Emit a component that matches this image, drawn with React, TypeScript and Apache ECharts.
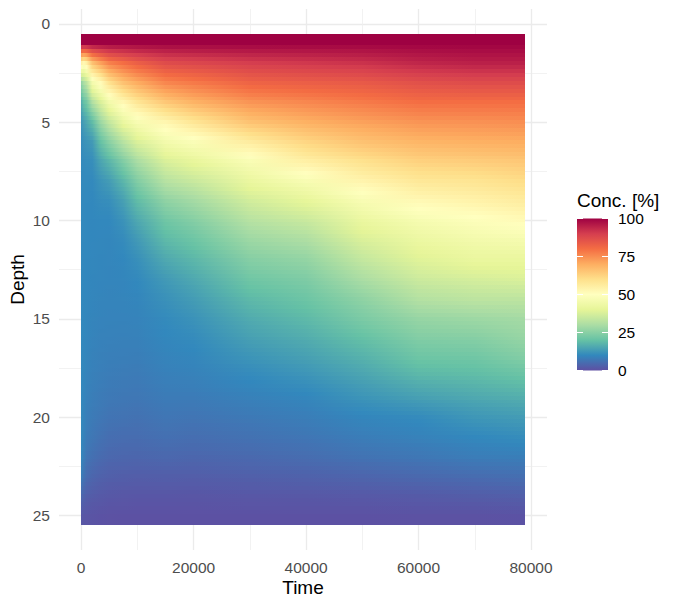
import React, { useEffect, useRef } from "react";
import * as echarts from "echarts";

const depths = [1,2,3,4,5,6,7,8,9,10,11,12,13,14,15,16,17,18,19,20,21,22,23,24,25];
const times = [0,500,1000,2000,3500,5000,7500,10000,15000,20000,30000,40000,50000,60000,70000,78900];

const conc0 = [100,55,26,16,12,10.5,10.3,10.2,10.2,10.2,10.2,10.2,10.2,10.2,10.2,10.2,10.2,10.2,10.2,10.3,10.3,10,8.5,4.5,1.5];
const conc500 = [100,52,30,20,14,11.5,10.6,10.3,10.2,10.1,10.1,10,10,10,10,9.9,9.8,9.7,9.5,9.3,9,8.2,6.4,3.4,1.2];
const conc1000 = [100,55,33,22,15.5,12,10.8,10.3,10.1,10,10,9.9,9.9,9.8,9.7,9.6,9.4,9.1,8.8,8.4,7.8,6.7,5,2.7,1];
const conc2000 = [100,66,45,31,19,13,11,10.2,10,9.9,9.9,9.8,9.7,9.6,9.4,9.2,8.9,8.6,8.2,7.7,7,5.8,4,2.2,0.8];
const conc3500 = [100,72,51,38,28,20,15,12,10.7,10,9.8,9.7,9.6,9.4,9.2,8.9,8.6,8.2,7.7,7.1,6.1,4.9,3.3,1.8,0.6];
const conc5000 = [100,77,59,45,34,25,18,13.5,11,10,9.7,9.6,9.5,9.3,9.1,8.8,8.4,7.9,7.3,6.5,5.5,4.3,2.9,1.5,0.5];
const conc7500 = [100,80,66,52.5,42,32,24,18,14,11.8,10.5,9.9,9.6,9.4,9.1,8.7,8.3,7.7,7.1,6.3,5.3,4.1,2.7,1.4,0.4];
const conc10000 = [100,83,70,58,47,38,30,24,19,15.5,13,11.2,10.2,9.6,9.2,8.8,8.2,7.6,7,6.1,5.2,4,2.6,1.3,0.4];
const conc15000 = [100,87,76,65,53,45,38,32,26,21.5,18.5,15.5,13,11.5,10.4,9.8,9.2,8.5,7.8,6.9,5.8,4.3,2.7,1.3,0.4];
const conc20000 = [100,88,78,69,58,48,41,35,29,24.5,21,18,15.5,13.5,11.8,10.5,9.6,8.7,7.8,6.7,5.5,4.1,2.6,1.2,0.4];
const conc30000 = [100,90,82,74,66,56,47.5,42,36.5,32,28,24.5,21.5,18.5,16,14,12,10.2,8.7,7.4,6.1,4.6,3,1.4,0.4];
const conc40000 = [100,91,83,76,69.5,62,55,47,40.5,35,30.5,26.5,23.5,21,18.5,16.2,14,11.8,9.6,8.2,6.9,5.2,3.4,1.5,0.4];
const conc50000 = [100,92,84,78,72,66,59.5,53.5,47,42,38,34,30,26,23,19.7,17,14.5,12,9.7,8.1,6.3,3.9,1.7,0.4];
const conc60000 = [100,94,86,80,74,68.5,63,57.5,52,46.5,42.5,39,35.5,31.5,27,24,21,17.5,14,10.5,8.9,7,4.5,2,0.5];
const conc70000 = [100,95,87,80,74.5,69.5,64,58.5,54,49,45,41.5,37,33,28,24.5,21.5,18.5,15.5,12.5,10,8,5.2,2.4,0.5];
const conc78900 = [100,95,87,80,75,70,65,60.5,56,51.5,46,41.5,38,33,29,27,24,20,16.5,13.5,10.8,8.3,5.6,2.8,0.6];
const concByTime = [conc0,conc500,conc1000,conc2000,conc3500,conc5000,conc7500,conc10000,conc15000,conc20000,conc30000,conc40000,conc50000,conc60000,conc70000,conc78900];

const spectral = ["#5E4FA2","#3288BD","#66C2A5","#ABDDA4","#E6F598","#FFFFBF","#FEE08B","#FDAE61","#F46D43","#D53E4F","#9E0142"];
const xMajor = [0,20000,40000,60000,80000];
const xMinor = [10000,30000,50000,70000];
const yMajor = [0,5,10,15,20,25];
const yMinor = [2.5,7.5,12.5,17.5,22.5];
const legendTicks = [0,25,50,75,100];

const hexRgb = (h: string) => [1,3,5].map((i) => parseInt(h.slice(i,i+2),16));
const colorOf = (v: number) => {
  const p = Math.max(0,Math.min(100,v))/10;
  const i = Math.min(9,Math.floor(p));
  const a = hexRgb(spectral[i]), b = hexRgb(spectral[i+1]);
  const f = p-i;
  return `rgb(${a.map((c,k)=>Math.round(c+(b[k]-c)*f)).join(",")})`;
};

const STRIPS_PER_DEPTH = 5;
const stripCount = depths.length*STRIPS_PER_DEPTH;
const tMax = times[times.length-1];
const stripData = Array.from({length:stripCount},(_,i)=>[i]);

const stripStops = (d: number) => {
  const c = Math.max(1,Math.min(25,d));
  const i = Math.min(23,Math.floor(c)-1);
  const f = c-1-i;
  return times.map((t,k)=>({
    offset: t/tMax,
    color: colorOf(concByTime[k][i]+(concByTime[k][i+1]-concByTime[k][i])*f),
  }));
};

const font = "'Liberation Sans', Arial, sans-serif";
const bar = { x:577, w:31, y100:218.5, y0:370.5 };
const yOfLegend = (v:number)=>bar.y0+(bar.y100-bar.y0)*v/100;
const plain = (v:number)=>String(v);

export default function App() {
  const ref = useRef<HTMLDivElement>(null);
  useEffect(() => {
    const chart = echarts.init(ref.current!, undefined, { renderer: "svg" });
    const hiddenAxis = { axisLabel:{show:false}, axisLine:{show:false} };
    chart.setOption({
      animation:false,
      backgroundColor:"#fff",
      textStyle:{fontFamily:font},
      grid:{left:59,right:133,top:9,bottom:58,outerBoundsMode:"none"},
      xAxis:[
        {type:"value",min:-3945,max:82845,name:"Time",nameLocation:"middle",nameGap:28,nameMoveOverlap:false,
         nameTextStyle:{fontSize:19,color:"#000",fontFamily:font},
         axisLine:{show:false},axisTick:{show:false,customValues:xMajor},
         axisLabel:{customValues:xMajor,formatter:plain,color:"#4D4D4D",fontSize:15.5,margin:9,fontFamily:font,showMinLabel:true,showMaxLabel:true},
         splitLine:{show:true,lineStyle:{color:"#EBEBEB",width:1.3}}},
        {type:"value",min:-3945,max:82845,...hiddenAxis,axisTick:{show:false,customValues:xMinor},
         splitLine:{show:true,lineStyle:{color:"#EFEFEF",width:0.8}}},
      ],
      yAxis:[
        {type:"value",inverse:true,min:-0.75,max:26.75,name:"Depth",nameLocation:"middle",nameGap:32,nameMoveOverlap:false,
         nameTextStyle:{fontSize:19,color:"#000",fontFamily:font},
         axisLine:{show:false},axisTick:{show:false,customValues:yMajor},
         axisLabel:{customValues:yMajor,formatter:plain,color:"#4D4D4D",fontSize:15.5,margin:9,fontFamily:font},
         splitLine:{show:true,lineStyle:{color:"#EBEBEB",width:1.3}}},
        {type:"value",inverse:true,min:-0.75,max:26.75,...hiddenAxis,axisTick:{show:false,customValues:yMinor},
         splitLine:{show:true,lineStyle:{color:"#EFEFEF",width:0.8}}},
      ],
      series:[{
        type:"custom",xAxisIndex:0,yAxisIndex:0,coordinateSystem:"cartesian2d",
        data:stripData,silent:true,
        encode:{x:[],y:[]},
        renderItem:(params:any,api:any)=>{
          const idx = params.dataIndex;
          const d0 = 0.5+idx/STRIPS_PER_DEPTH;
          const d1 = d0+1/STRIPS_PER_DEPTH;
          const a = api.coord([0,d0]);
          const b = api.coord([tMax,d1]);
          const x0 = Math.round(a[0]), x1 = Math.round(b[0]);
          const y0 = Math.round(a[1]), y1 = Math.round(b[1]);
          return {
            type:"rect",
            shape:{x:x0,y:y0,width:x1-x0,height:y1-y0},
            style:{fill:new echarts.graphic.LinearGradient(0,0,1,0,stripStops((d0+d1)/2)),stroke:"none"},
          };
        },
      }],
      graphic:[
        {type:"text",x:bar.x,y:200,style:{text:"Conc. [%]",font:`19px ${font}`,fill:"#000",textAlign:"left",textVerticalAlign:"middle"}},
        {type:"rect",shape:{x:bar.x,y:bar.y100,width:bar.w,height:bar.y0-bar.y100},
         style:{fill:new echarts.graphic.LinearGradient(0,1,0,0,spectral.map((c,i)=>({offset:i/10,color:c})))}},
        ...legendTicks.flatMap((v)=>[
          {type:"line",shape:{x1:bar.x,y1:yOfLegend(v),x2:bar.x+6,y2:yOfLegend(v)},style:{stroke:"#fff",lineWidth:1}},
          {type:"line",shape:{x1:bar.x+bar.w-6,y1:yOfLegend(v),x2:bar.x+bar.w,y2:yOfLegend(v)},style:{stroke:"#fff",lineWidth:1}},
          {type:"text",x:618,y:yOfLegend(v),style:{text:String(v),font:`15.5px ${font}`,fill:"#000",textAlign:"left",textVerticalAlign:"middle"}},
        ]),
      ],
    });
    return () => chart.dispose();
  }, []);
  return <div ref={ref} style={{position:"absolute",left:0,top:0,width:680,height:608}} />;
}
